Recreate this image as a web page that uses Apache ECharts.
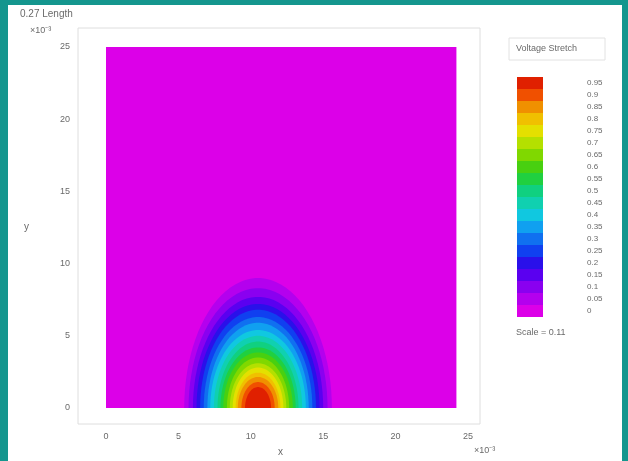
<!DOCTYPE html>
<html>
<head>
<meta charset="utf-8">
<script src="https://cdn.jsdelivr.net/npm/echarts@6/dist/echarts.min.js"></script>
<style>
    html, body { margin: 0; padding: 0; background: #14968e; }
    #main { width: 628px; height: 461px; }
</style>
</head>
<body>
<div id="main"></div>
<script>
// contour levels of the field (value >= level inside the semi-ellipse)
var centerX = 10.5;
var levels = [0.05, 0.1, 0.15, 0.2, 0.25, 0.3, 0.35, 0.4, 0.45, 0.5,
    0.55, 0.6, 0.65, 0.7, 0.75, 0.8, 0.85, 0.9, 0.95];
var heights = [9.0, 8.3, 7.7, 7.2, 6.8, 6.3, 5.9, 5.4, 5.0, 4.6,
    4.2, 3.85, 3.5, 3.1, 2.8, 2.45, 2.15, 1.8, 1.45];
var halfWidths = [5.1, 4.8, 4.5, 4.25, 4.0, 3.75, 3.5, 3.3, 3.05, 2.8,
    2.6, 2.4, 2.15, 1.95, 1.75, 1.55, 1.4, 1.15, 0.9];
var domainX = [0, 24.2];
var domainY = [0, 25];
var backgroundLevel = 0.02;

// colour bar (bottom -> top)
var bandColors = ['#dc00e8', '#b400ee', '#8a00f0', '#5a00f0', '#2a10ea', '#1040f0', '#1070f0',
    '#10a0f0', '#10c8e0', '#10d0b0', '#10d080', '#20d040', '#48d010', '#80d800',
    '#b4e000', '#e4e000', '#f0c000', '#f09000', '#f05000', '#e02000'];
var colorbarLabels = ['0', '0.05', '0.1', '0.15', '0.2', '0.25', '0.3', '0.35', '0.4', '0.45',
    '0.5', '0.55', '0.6', '0.65', '0.7', '0.75', '0.8', '0.85', '0.9', '0.95'];

var txt = '#6a6a6a';
var font = 'Liberation Sans';

var myChart = echarts.init(document.getElementById('main'));

var edges = [0].concat(levels).concat([1]);
var pieces = [];
for (var i = 0; i < bandColors.length; i++) {
    var p = { gte: edges[i], color: bandColors[i], label: colorbarLabels[i] };
    if (i == bandColors.length - 1) { p.lte = edges[i + 1]; } else { p.lt = edges[i + 1]; }
    pieces.push(p);
}

var ringData = [];
for (var k = 0; k < levels.length; k++) {
    ringData.push([centerX, levels[k], halfWidths[k], heights[k]]);
}

var option = {
    animation: false,
    textStyle: { fontFamily: font },
    graphic: [
        { type: 'rect', z: -10, shape: { x: 8, y: 5, width: 614, height: 460 }, style: { fill: '#fff' } },
        { type: 'rect', z: -9, shape: { x: 78, y: 28, width: 402, height: 396 }, style: { fill: 'none', stroke: '#dedede', lineWidth: 1 } },
        { type: 'text', left: 20, top: 9, style: { text: '0.27 Length', fill: txt, font: '10px ' + font } },
        { type: 'text', left: 30, top: 26, style: { text: '×10⁻³', fill: txt, font: '9px ' + font } },
        { type: 'text', left: 24, top: 222, style: { text: 'y', fill: txt, font: '10px ' + font } },
        { type: 'text', left: 278, top: 447, style: { text: 'x', fill: txt, font: '10px ' + font } },
        { type: 'text', left: 474, top: 446, style: { text: '×10⁻³', fill: txt, font: '9px ' + font } },
        { type: 'rect', shape: { x: 509, y: 38, width: 96, height: 22 }, style: { fill: 'none', stroke: '#e2e2e2' } },
        { type: 'text', left: 516, top: 44, style: { text: 'Voltage Stretch', fill: txt, font: '9px ' + font } },
        { type: 'text', left: 516, top: 328, style: { text: 'Scale = 0.11', fill: txt, font: '9px ' + font } }
    ],
    grid: { left: 106, top: 47, width: 362, height: 361 },
    xAxis: {
        type: 'value', min: 0, max: 25, interval: 5,
        axisLine: { show: false }, axisTick: { show: false }, splitLine: { show: false },
        axisLabel: { color: txt, fontSize: 9, margin: 24 }
    },
    yAxis: {
        type: 'value', min: 0, max: 25, interval: 5,
        axisLine: { show: false }, axisTick: { show: false }, splitLine: { show: false },
        axisLabel: { color: txt, fontSize: 9, margin: 36 }
    },
    visualMap: {
        type: 'piecewise',
        dimension: 1,
        seriesIndex: [0, 1],
        pieces: pieces,
        orient: 'vertical',
        align: 'left',
        padding: 0,
        left: 517, top: 77,
        itemWidth: 26, itemHeight: 12, itemGap: 0,
        itemSymbol: 'rect',
        textGap: 44,
        hoverLink: false,
        selectedMode: false,
        textStyle: { color: txt, fontSize: 8 }
    },
    series: [{
        // whole domain at the lowest level
        type: 'custom',
        data: [[domainX[0], backgroundLevel, domainX[1], domainY[1]]],
        renderItem: function (params, api) {
            var a = api.coord([api.value(0), api.value(3)]);
            var b = api.coord([api.value(2), 0]);
            return { type: 'rect', shape: { x: a[0], y: a[1], width: b[0] - a[0], height: b[1] - a[1] },
                style: { fill: api.visual('color') } };
        }
    }, {
        // contour rings, biggest first
        type: 'custom',
        data: ringData,
        renderItem: function (params, api) {
            var cx = api.value(0), w = api.value(2), h = api.value(3);
            var pts = [];
            for (var a = 0; a <= 180; a += 4) {
                var t = a * Math.PI / 180;
                pts.push(api.coord([cx + w * Math.cos(t), h * Math.sin(t)]));
            }
            return { type: 'polygon', shape: { points: pts }, style: { fill: api.visual('color') } };
        }
    }]
};
myChart.setOption(option);
</script>
</body>
</html>
